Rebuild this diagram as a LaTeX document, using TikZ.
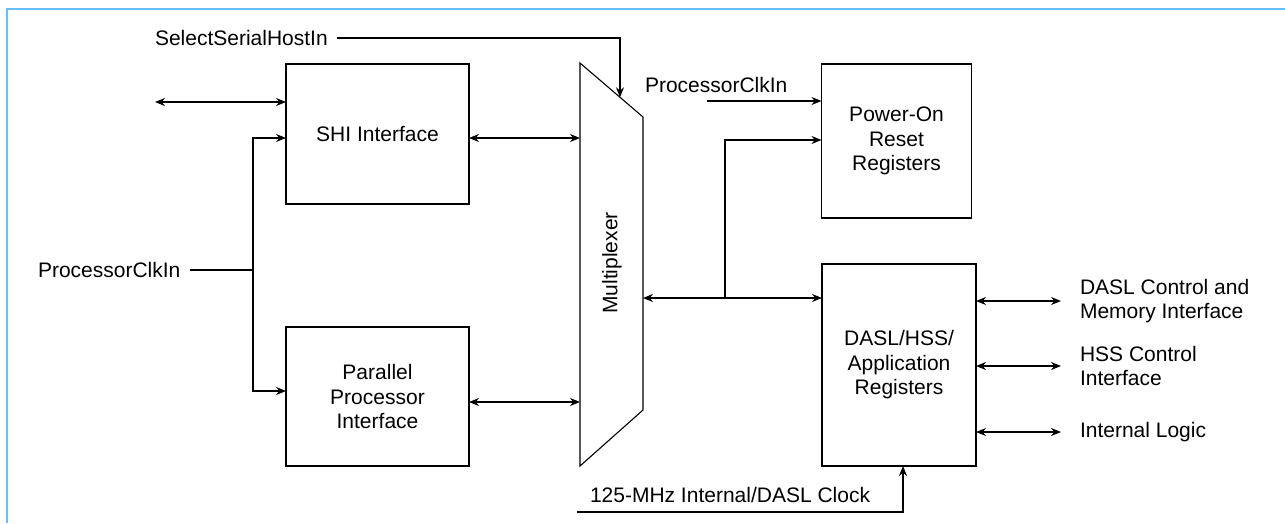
\documentclass[tikz,border=0pt]{standalone}
\usepackage{fontspec}
\setmainfont{Liberation Sans}
\usetikzlibrary{arrows.meta,calc}
\definecolor{frameblue}{RGB}{102,190,255}
\begin{document}
\begin{tikzpicture}[x=1pt,y=-1pt,
  every node/.style={font=\fontsize{21}{24.5}\selectfont, inner sep=0pt, outer sep=0pt},
  block/.style={draw, line width=1.3pt, align=center},
  wire/.style={line width=1.3pt},
  sig/.style={wire, -{Stealth[length=10pt,width=8pt]}},
  bus/.style={wire, {Stealth[length=10pt,width=8pt]}-{Stealth[length=10pt,width=8pt]}},
  lbl/.style={anchor=west, align=left},
  frameline/.style={draw=frameblue, line width=2.5pt}]

\useasboundingbox (0,0) rectangle (1285,523);
\draw[frameline] (7,523) -- (7,9) -- (1285,9);

% function blocks
\node[block, minimum width=183pt, minimum height=140pt] (shi) at (377.5,134) {SHI Interface};
\node[block, minimum width=183pt, minimum height=139pt] (ppi) at (377.5,396.5) {Parallel\\Processor\\Interface};
\node[block, minimum width=150pt, minimum height=154pt] (pwr) at (896.5,141) {Power-On\\Reset\\Registers};
\node[block, minimum width=154pt, minimum height=202pt] (dasl) at (899,365) {DASL/HSS/\\Application\\Registers};

% multiplexer outline
\coordinate (m1) at (580,63);
\coordinate (m2) at (643,117);
\coordinate (m3) at (643,410);
\coordinate (m4) at (580,466);
\draw[wire, line width=1.1pt] (m1) -- (m2) -- (m3) -- (m4) -- cycle;
\node[rotate=90] (muxlbl) at (612,263) {Multiplexer};

% select input
\node[lbl] (ssh) at (155,38) {SelectSerialHostIn};
\coordinate (sel) at ($(m1)!0.635!(m2)$);
\draw[sig] ([xshift=9pt]ssh.east) -- (ssh.east -| sel) -- (sel);

% external port of the SHI block
\coordinate (ext) at (155,102);
\draw[bus] (ext) -- (ext -| shi.west);

% processor clock to both host interfaces
\node[lbl] (pclk) at (38,270) {ProcessorClkIn};
\coordinate (split) at (253,270);
\draw[wire] ([xshift=10pt]pclk.east) -- (split);
\draw[sig] (split) |- ($(shi.west)+(0,4)$);
\draw[sig] (split) |- ($(ppi.west)+(0,-5.5)$);

% host interfaces to multiplexer
\coordinate (shiR) at ($(shi.east)+(0,4)$);
\coordinate (ppiR) at ($(ppi.east)+(0,5.5)$);
\draw[bus] (shiR) -- (shiR -| m1);
\draw[bus] (ppiR) -- (ppiR -| m1);

% multiplexer to register blocks
\coordinate (mxo) at (643,298);
\coordinate (tap) at (725,298);
\draw[bus] (mxo) -- (mxo -| dasl.west);
\draw[sig] (tap) |- ($(pwr.west)+(0,-1)$);

% processor clock to power-on reset registers
\node[lbl] (pclk2) at (645,85) {ProcessorClkIn};
\coordinate (pc2) at (707,101);
\draw[sig] (pc2) -- (pc2 -| pwr.west);

% register block outputs
\node[lbl] (dcm) at (1080,301) {DASL Control and\\Memory Interface};
\node[lbl] (hss) at (1080,366) {HSS Control\\Interface};
\node[lbl] (ilog) at (1080,432) {Internal Logic};
\draw[bus] (dasl.east |- dcm.west) -- ([xshift=-19pt]dcm.west);
\draw[bus] (dasl.east |- hss.west) -- ([xshift=-19pt]hss.west);
\draw[bus] (dasl.east |- ilog.west) -- ([xshift=-19pt]ilog.west);

% 125-MHz clock
\node[lbl] (clk125) at (590,495) {125-MHz Internal/DASL Clock};
\coordinate (clkin) at (577,512);
\coordinate (clkup) at (903,512);
\draw[sig] (clkin) -- (clkup) -- (clkup |- dasl.south);
\end{tikzpicture}
\end{document}
